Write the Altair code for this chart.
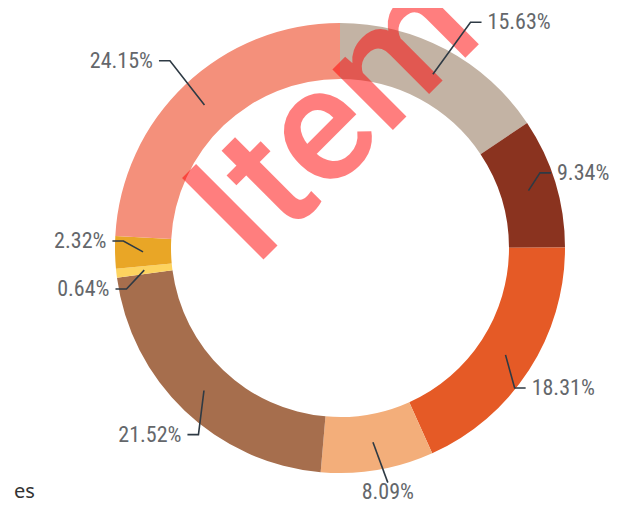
import math
import altair as alt
import pandas as pd

# ---- data ----
items = ["Item 1", "Item 2", "Item 3", "Item 4", "Item 5", "Item 6", "Item 7", "Item 8"]
shares = [15.63, 9.34, 18.31, 8.09, 21.52, 0.64, 2.32, 24.15]
colors = ["#c3b3a4", "#8a331f", "#e55a26", "#f3ae7a", "#a66e4d", "#fdd35f", "#e9a626", "#f4907b"]
watermark = ["Item"]
legend_fragment = ["es"]

# ---- layout constants ----
W, H = 601, 496
CX, CY = 332, 240
R_OUT, R_IN = 225, 169
R_ANCHOR = 197
R_LABEL = 258
R_END = 238
TAIL = 11
GAP = 48
FS = 22
CHAR_W = 10.2

total = sum(shares)
arc_df = pd.DataFrame({"item": items, "share": shares, "order": list(range(len(items)))})

# label layout derived from the shares
info = []
cum = 0.0
for i, (name, v) in enumerate(zip(items, shares)):
    a = (cum + v / 2) / total * 2 * math.pi
    cum += v
    s, c = math.sin(a), math.cos(a)
    info.append(dict(i=i, name=name, v=v, s=s, c=c,
                     ax=CX + R_ANCHOR * s, ay=CY - R_ANCHOR * c,
                     ly=CY - R_LABEL * c,
                     side="bottom" if abs(s) < 0.3 else ("right" if s > 0 else "left")))

for side in ("left", "right"):
    grp = sorted([d for d in info if d["side"] == side], key=lambda d: d["ly"])
    for _ in range(100):
        moved = False
        for p, q in zip(grp, grp[1:]):
            g = q["ly"] - p["ly"]
            if g < GAP - 0.01:
                push = (GAP - g) / 2
                p["ly"] -= push
                q["ly"] += push
                moved = True
        if not moved:
            break
    for d in grp:
        d["ly"] = min(max(d["ly"], FS * 0.65), H - FS * 0.65)

line_rows = []
label_rows = []
for d in info:
    txt = f"{d['v']:.2f}%"
    tw = CHAR_W * len(txt)
    line_rows.append(dict(item=d["name"], k=0, px=d["ax"], py=d["ay"]))
    if d["side"] == "bottom":
        ex, ey = CX + R_END * d["s"] + 8, CY - R_END * d["c"]
        line_rows.append(dict(item=d["name"], k=1, px=ex, py=ey))
        label_rows.append(dict(item=d["name"], side="bottom", lx=ex, ly=min(ey + 16, H - 12), label=txt))
    else:
        sg = 1 if d["side"] == "right" else -1
        ex = d["ax"] + sg * (20 + 20 * d["c"])
        if sg > 0:
            ex = min(ex, W - tw - TAIL - 7)
        else:
            ex = max(ex, tw + TAIL + 7)
        line_rows.append(dict(item=d["name"], k=1, px=ex, py=d["ly"]))
        line_rows.append(dict(item=d["name"], k=2, px=ex + sg * TAIL, py=d["ly"]))
        label_rows.append(dict(item=d["name"], side=d["side"], lx=ex + sg * (TAIL + 6),
                               ly=d["ly"], label=txt))

line_df = pd.DataFrame(line_rows)
label_df = pd.DataFrame(label_rows)

LABEL_FONT = "Roboto Condensed, DejaVu Sans Condensed, Liberation Sans Narrow, Roboto"

donut = alt.Chart(arc_df).mark_arc(outerRadius=R_OUT, innerRadius=R_IN).encode(
    theta=alt.Theta("share:Q", stack=True),
    color=alt.Color("item:N", scale=alt.Scale(domain=items, range=colors), legend=None),
    order=alt.Order("order:Q"),
    x=alt.value(CX),
    y=alt.value(CY),
)

mark_wm = alt.Chart(pd.DataFrame({"t": watermark})).mark_text(
    font="Roboto", fontSize=162, fontWeight=500, color="#ff0000", opacity=0.5,
    angle=315, align="center", baseline="alphabetic",
).encode(text="t:N", x=alt.value(CX + 30), y=alt.value(CY - 95))

leaders = alt.Chart(line_df).mark_line(color="#2e3a44", strokeWidth=1.6).encode(
    x=alt.X("px:Q", scale=None, axis=None),
    y=alt.Y("py:Q", scale=None, axis=None),
    detail="item:N",
    order="k:Q",
)

def label_layer(side, align):
    return alt.Chart(label_df).transform_filter(alt.datum.side == side).mark_text(
        font=LABEL_FONT, fontSize=FS, color="#64676b", align=align, baseline="middle",
    ).encode(
        x=alt.X("lx:Q", scale=None, axis=None),
        y=alt.Y("ly:Q", scale=None, axis=None),
        text="label:N",
    )

labels = label_layer("right", "left") + label_layer("left", "right") + label_layer("bottom", "center")

es = alt.Chart(pd.DataFrame({"t": legend_fragment})).mark_text(
    font="Noto Sans", fontSize=20, color="#333333", align="left", baseline="alphabetic",
).encode(text="t:N", x=alt.value(6), y=alt.value(490))

chart = alt.layer(donut, mark_wm, leaders, labels, es).properties(
    width=W, height=H, autosize=alt.AutoSizeParams(type="none"), padding=0,
    background="white",
).configure_view(stroke=None)

chart.save("out.html", embed_options={"renderer": "svg", "actions": False})
